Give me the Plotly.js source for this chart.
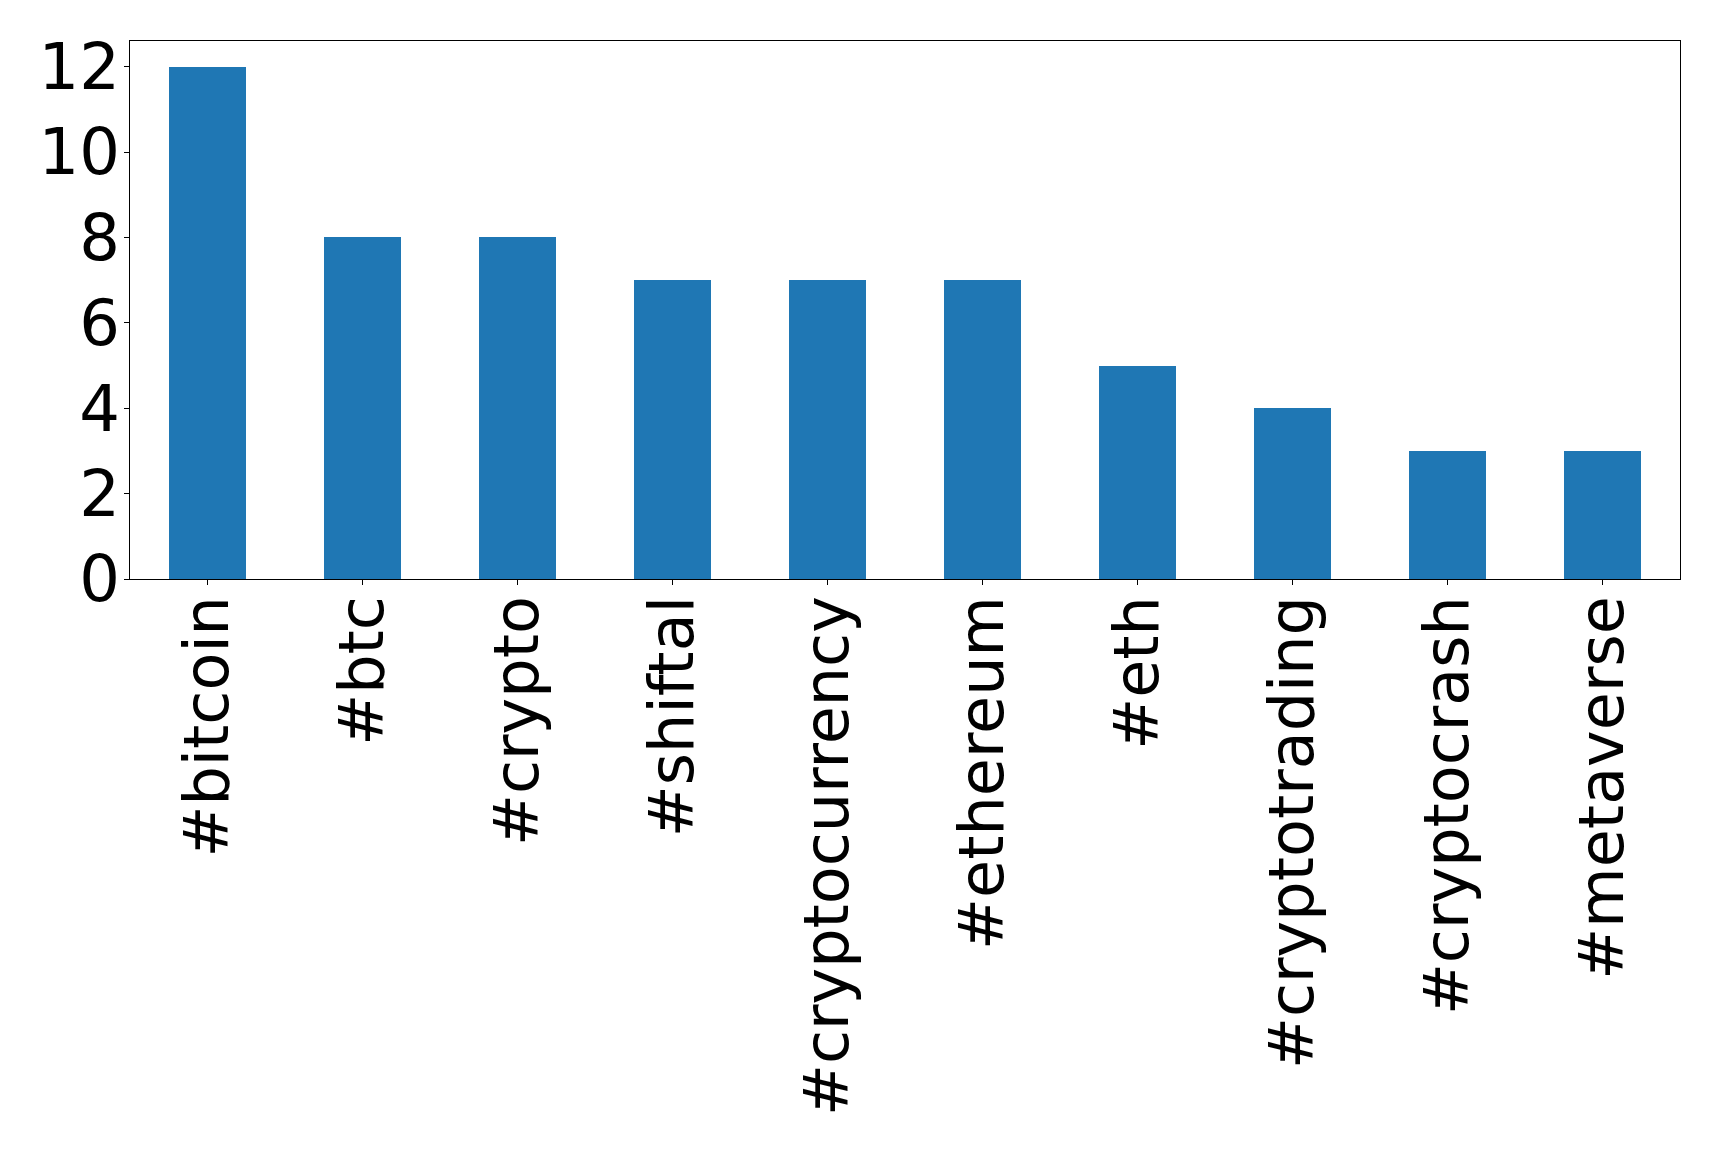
<!DOCTYPE html>
<html>
<head>
<meta charset="utf-8">
<script src="https://cdn.plot.ly/plotly-3.0.1.min.js"></script>
<style>html,body{margin:0;padding:0;background:#fff;}#chart{width:1719px;height:1153px;}</style>
</head>
<body>
<div id="chart"></div>
<script>
const categories = ["#bitcoin", "#btc", "#crypto", "#shiftal", "#cryptocurrency", "#ethereum", "#eth", "#cryptotrading", "#cryptocrash", "#metaverse"];
const counts = [12, 8, 8, 7, 7, 7, 5, 4, 3, 3];
const yTicks = [0, 2, 4, 6, 8, 10, 12];

const trace = {
  type: "bar",
  x: categories.map((_, i) => i),
  y: counts,
  width: 0.5,
  marker: {color: "#1f77b4", line: {width: 0}},
  hoverinfo: "x+y"
};

const layout = {
  width: 1719, height: 1153,
  margin: {l: 129.5, r: 39.3, t: 40.5, b: 573.7, pad: 0},
  paper_bgcolor: "#fff", plot_bgcolor: "#fff",
  font: {family: "DejaVu Sans", color: "#000", size: 62},
  showlegend: false,
  bargap: 0,
  xaxis: {
    range: [-0.5, categories.length - 0.5],
    tickmode: "array",
    tickvals: categories.map((_, i) => i),
    ticktext: categories,
    tickangle: -90,
    ticks: "outside", ticklen: 5, tickwidth: 1, tickcolor: "#000",
    ticklabelstandoff: -14,
    showline: true, linecolor: "#000", linewidth: 1.3, mirror: true,
    showgrid: false, zeroline: false,
    tickfont: {family: "DejaVu Sans", size: 62, color: "#000"}
  },
  yaxis: {
    range: [0, 12.6],
    tickmode: "array",
    tickvals: yTicks,
    ticktext: yTicks.map(String),
    ticks: "outside", ticklen: 5, tickwidth: 1, tickcolor: "#000",
    ticklabelstandoff: -9,
    showline: true, linecolor: "#000", linewidth: 1.3, mirror: true,
    showgrid: false, zeroline: false,
    tickfont: {family: "DejaVu Sans", size: 64, color: "#000"}
  }
};

Plotly.newPlot("chart", [trace], layout, {displayModeBar: false, staticPlot: true});
</script>
</body>
</html>
